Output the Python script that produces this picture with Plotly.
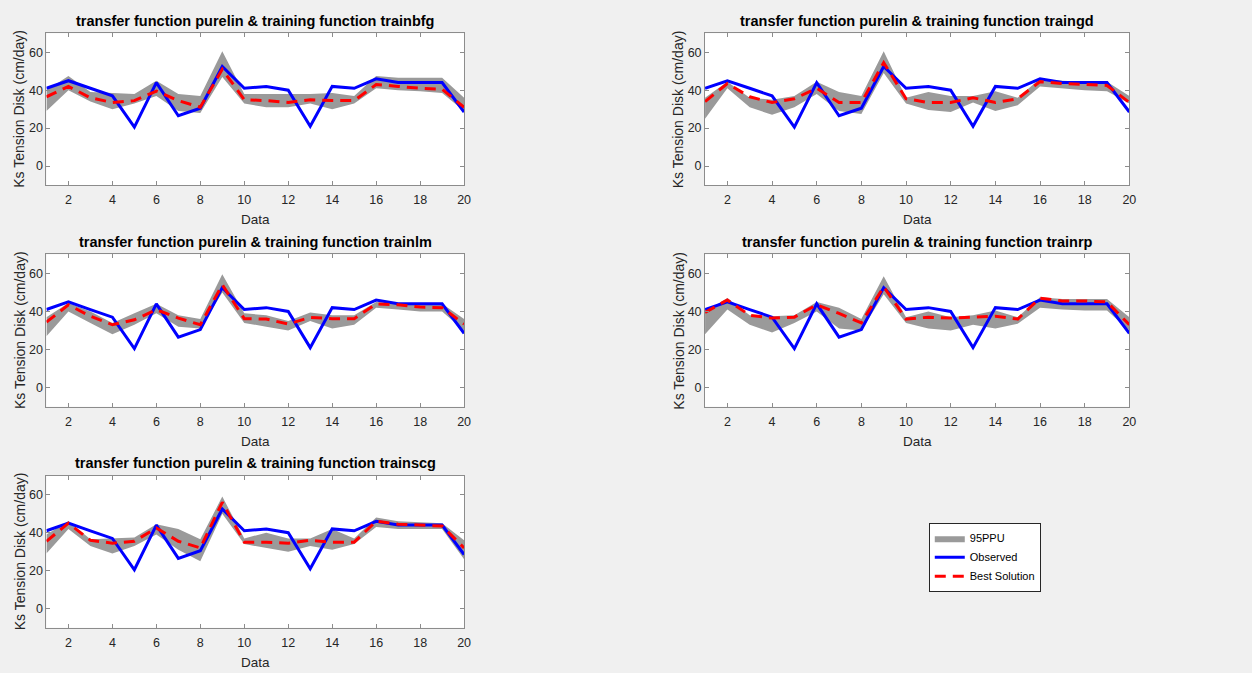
import plotly.graph_objects as go

# Observation index (20 samples)
x = list(range(1, 21))

# Observed Ks values, identical across all panels
observed = [41, 45, 41, 37, 20.5, 44, 26.5, 30.5, 52.5, 41, 42, 40, 21, 42, 41, 46, 44, 44, 44, 28.5]

train_names = ["trainbfg", "traingd", "trainlm", "trainrp", "trainscg"]

# Best solution per training function
best_trainbfg = [36.5, 42, 36, 33.5, 34.5, 39.5, 34.5, 31, 51, 35, 34.5, 33.5, 35, 34.5, 34.5, 43, 42, 41, 40.5, 31]
best_traingd = [34, 43.5, 36.5, 33.5, 35.5, 41, 33.5, 33.5, 54.5, 35.5, 33.5, 33.5, 36, 33.5, 35.5, 44.5, 43.5, 43, 42.5, 33.5]
best_trainlm = [34.4, 43.5, 37.5, 33, 35.6, 40.9, 36.5, 33, 54, 36.2, 36, 33.4, 36.9, 36.2, 36.2, 44, 43.5, 42.3, 42, 33.4]
best_trainrp = [39.5, 46, 38, 36.5, 37, 43.5, 39, 34, 53, 36, 37, 36.5, 37, 37.5, 36, 47, 45.5, 45.5, 45, 33]
best_trainscg = [35.5, 45, 36, 34.5, 35.5, 42.5, 35.5, 32, 56, 35, 35, 34.5, 36, 35, 35, 46, 44.5, 44, 43.5, 32]

# 95PPU lower / upper bounds per training function
lo_trainbfg = [29, 40, 34, 30, 33, 37, 29, 28, 47, 33, 31, 31, 33, 30, 33, 41, 40, 39.5, 38.5, 29]
hi_trainbfg = [40, 47.5, 39, 38.5, 38, 45, 38, 37, 60.5, 38, 38, 38, 38, 38.5, 37, 47.5, 46.5, 46.5, 46.5, 36]
lo_traingd = [25, 41, 31, 27, 31, 38, 29, 27.5, 49, 33, 29.5, 28.5, 33.5, 29, 32, 42, 41, 40, 39.5, 33]
hi_traingd = [36, 44.5, 36, 35, 37, 44.5, 39, 37, 60.5, 36, 39, 37, 37, 39.5, 36, 46, 45, 44.5, 44.5, 37]
lo_trainlm = [27, 40, 34, 28, 33, 39, 32, 31, 50, 34, 32, 30, 35, 31, 33, 42, 41, 40, 40, 30]
hi_trainlm = [37, 44.5, 40, 34, 39, 44, 38, 36, 59.5, 39, 38, 35, 39.5, 38, 38, 45, 44, 44, 44, 36]
lo_trainrp = [28, 41, 33, 29, 34, 40, 31, 30, 49, 34, 31, 30, 33, 31, 33.5, 42, 41, 40.5, 40.5, 30]
hi_trainrp = [40, 47, 38, 37.5, 38, 45, 42, 36, 58.5, 37, 40, 37, 38, 40.5, 37, 47.5, 46.5, 46.5, 46.5, 37]
lo_trainscg = [29, 42, 33, 29, 33, 39, 31, 25, 50, 34, 32, 30, 33, 31, 34, 43, 42, 42, 42, 26]
hi_trainscg = [39, 46, 36.5, 37, 37.5, 44.5, 42, 36.5, 59, 37, 40, 37, 37, 42, 37, 48, 46, 45.5, 45, 36]

best = [best_trainbfg, best_traingd, best_trainlm, best_trainrp, best_trainscg]
lows = [lo_trainbfg, lo_traingd, lo_trainlm, lo_trainrp, lo_trainscg]
highs = [hi_trainbfg, hi_traingd, hi_trainlm, hi_trainrp, hi_trainscg]

W, H = 1252, 673
FONT = "Liberation Sans, Arial, Helvetica, sans-serif"
TXT = "#262626"
BAND = "#9a9a9a"

# panel boxes in pixels: (left, right, top, bottom)
cols = [(46.7, 466.7), (709.0, 1135.7)]
rows = [(33.3, 185.0), (254.3, 406.7), (475.7, 627.7)]
panels = [(0, 0), (0, 1), (1, 0), (1, 1), (2, 0)]

fig = go.Figure()
annotations = []

for i, (r, c) in enumerate(panels):
    ax = "" if i == 0 else str(i + 1)
    xref, yref = "x" + ax, "y" + ax
    show = i == 0
    # 95PPU band as a closed polygon: upper bound forward, lower bound back
    fig.add_trace(go.Scatter(x=x + x[::-1], y=highs[i] + lows[i][::-1], mode="lines",
                             line=dict(width=0, color=BAND), fill="toself", fillcolor=BAND,
                             name="95PPU", showlegend=show, hoverinfo="skip",
                             xaxis=xref, yaxis=yref))
    fig.add_trace(go.Scatter(x=x, y=observed, mode="lines", line=dict(width=3, color="#0000ff"),
                             name="Observed", showlegend=show, xaxis=xref, yaxis=yref))
    fig.add_trace(go.Scatter(x=x, y=best[i], mode="lines",
                             line=dict(width=3, color="#ff0000", dash="11px,7px"),
                             name="Best Solution", showlegend=show, xaxis=xref, yaxis=yref))

    left, right = cols[c]
    top, bottom = rows[r]
    xd = [left / W, right / W]
    yd = [1 - bottom / H, 1 - top / H]
    common = dict(showline=True, linecolor="#8c8c8c", linewidth=1, mirror="ticks",
                  ticks="inside", ticklen=4, tickcolor="#8c8c8c", showgrid=False, zeroline=False,
                  tickfont=dict(family=FONT, size=12.5, color=TXT))
    fig.update_layout(**{
        "xaxis" + ax: dict(domain=xd, range=[1, 20], tickvals=list(range(2, 21, 2)),
                           anchor=yref, ticklabelstandoff=3, **common),
        "yaxis" + ax: dict(domain=yd, range=[-10, 70], tickvals=[0, 20, 40, 60],
                           anchor=xref, **common),
    })
    cx = (left + right) / 2 / W
    annotations.append(dict(text="<b>transfer function purelin & training function %s</b>" % train_names[i],
                            x=cx, y=1 - (top - 12.5) / H, xref="paper", yref="paper",
                            showarrow=False, font=dict(family=FONT, size=14.5, color="black"),
                            xanchor="center", yanchor="middle"))
    annotations.append(dict(text="Data", x=cx, y=1 - (bottom + 34.5) / H, xref="paper", yref="paper",
                            showarrow=False, font=dict(family=FONT, size=13.5, color=TXT),
                            xanchor="center", yanchor="middle"))
    annotations.append(dict(text="Ks Tension Disk (cm/day)", x=(left - 27) / W,
                            y=1 - (top + bottom) / 2 / H, xref="paper", yref="paper",
                            showarrow=False, textangle=-90, font=dict(family=FONT, size=14, color=TXT),
                            xanchor="center", yanchor="middle"))

fig.update_layout(
    width=W, height=H,
    margin=dict(l=0, r=0, t=0, b=0),
    paper_bgcolor="#f0f0f0", plot_bgcolor="white",
    annotations=annotations,
    showlegend=True,
    legend=dict(x=934 / W, y=1 - 522.7 / H, xanchor="left", yanchor="top",
                bgcolor="white", bordercolor="#262626", borderwidth=1,
                font=dict(family=FONT, size=11, color="black"),
                traceorder="normal", tracegroupgap=0, itemwidth=30),
)

fig.write_html("out.html")
